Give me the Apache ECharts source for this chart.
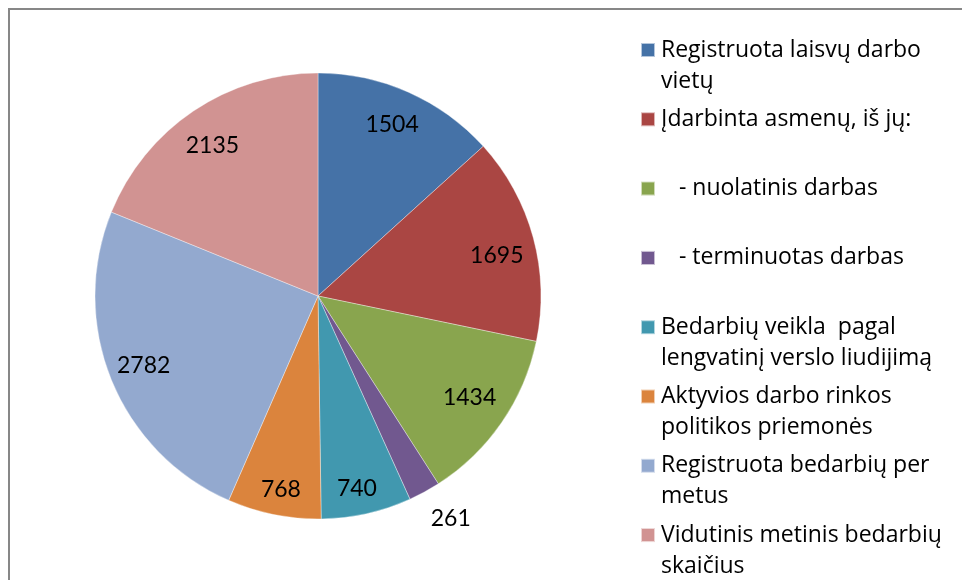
<!DOCTYPE html>
<html>
<head>
<meta charset="utf-8">
<script src="https://cdn.jsdelivr.net/npm/echarts@6/dist/echarts.min.js"></script>
<style>
html,body{margin:0;padding:0;background:#fff;}
#chart{width:962px;height:580px;}
</style>
</head>
<body>
<div id="chart"></div>
<script>
// Data
const categories = [
  'Registruota laisvų darbo vietų',
  'Įdarbinta asmenų, iš jų:',
  '\u00a0\u00a0\u00a0- nuolatinis darbas',
  '\u00a0\u00a0\u00a0- terminuotas darbas',
  'Bedarbių veikla  pagal lengvatinį verslo liudijimą',
  'Aktyvios darbo rinkos politikos priemonės',
  'Registruota bedarbių per metus',
  'Vidutinis metinis bedarbių skaičius'
];
// legend text lines (as wrapped in the reference)
const legendLines = [
  ['Registruota laisvų darbo', 'vietų'],
  ['Įdarbinta asmenų, iš jų:'],
  ['\u00a0\u00a0\u00a0- nuolatinis darbas'],
  ['\u00a0\u00a0\u00a0- terminuotas darbas'],
  ['Bedarbių veikla\u00a0 pagal', 'lengvatinį verslo liudijimą'],
  ['Aktyvios darbo rinkos', 'politikos priemonės'],
  ['Registruota bedarbių per', 'metus'],
  ['Vidutinis metinis bedarbių', 'skaičius']
];
const values = [1504, 1695, 1434, 261, 740, 768, 2782, 2135];
const colors = ['#4572A7', '#AA4643', '#89A54E', '#71588F', '#4198AF', '#DB843D', '#93A9CF', '#D19392'];

const LEGEND_FONT = 'Open Sans';
const LEGEND_SIZE = 23;
const LABEL_FONT = 'Lato';
const cx = 318, cy = 296, R = 223;

const chart = echarts.init(document.getElementById('chart'), null, {renderer: 'canvas'});

const legendTop0 = 50, legendStep = 69.3;
const legends = [];
const graphics = [{
  type: 'rect', shape: {x: 9, y: 9, width: 1200, height: 1200},
  style: {fill: 'none', stroke: '#878787', lineWidth: 2}, silent: true
}];
categories.forEach((name, i) => {
  const yc = legendTop0 + legendStep * i;
  legends.push({
    data: [name],
    left: 640, top: yc - 13,
    orient: 'vertical',
    padding: 0,
    itemWidth: 14, itemHeight: 14, itemGap: 0,
    icon: 'rect',
    selectedMode: false,
    formatter: () => legendLines[i][0],
    textStyle: {fontFamily: LEGEND_FONT, fontSize: LEGEND_SIZE, color: '#000', lineHeight: 26, padding: [0, 0, 0, 1]}
  });
  for (let k = 1; k < legendLines[i].length; k++) {
    graphics.push({
      type: 'text', left: 661, top: yc + 31 * k - 13,
      style: {text: legendLines[i][k], font: LEGEND_SIZE + 'px "' + LEGEND_FONT + '"', fill: '#000', lineHeight: 26},
      silent: true
    });
  }
});

const data = categories.map((n, i) => ({name: n, value: values[i], itemStyle: {color: colors[i]}}));
const labelOffsets = [[-4, 5], [-7, 10], [-7, -8], [0, 0], [-3, 5], [1, 5], [4, -3], [2, 9]];
const labelData = categories.map((n, i) => {
  const d = {name: n, value: values[i], label: {offset: labelOffsets[i]}};
  if (i === 3) {
    d.label = {position: 'outside', offset: [-12, 2]};
    d.labelLine = {show: false, length: 28, length2: 0};
  }
  return d;
});

chart.setOption({
  animation: false,
  backgroundColor: '#fff',
  legend: legends,
  graphic: graphics,
  series: [{
    type: 'pie',
    center: [cx, cy],
    radius: [0, R],
    startAngle: 90,
    clockwise: true,
    silent: true,
    label: {show: false},
    labelLine: {show: false},
    itemStyle: {borderColor: 'rgba(255,255,255,0.6)', borderWidth: 0.6},
    emphasis: {disabled: true},
    data: data
  }, {
    type: 'pie',
    center: [cx, cy],
    radius: [R * 0.7, R],
    startAngle: 90,
    clockwise: true,
    silent: true,
    avoidLabelOverlap: false,
    itemStyle: {color: 'rgba(0,0,0,0)', borderWidth: 0},
    label: {show: true, position: 'inside', formatter: '{c}', fontFamily: LABEL_FONT, fontSize: 23, color: '#000'},
    labelLine: {show: false},
    emphasis: {disabled: true},
    data: labelData
  }]
});
</script>
</body>
</html>
